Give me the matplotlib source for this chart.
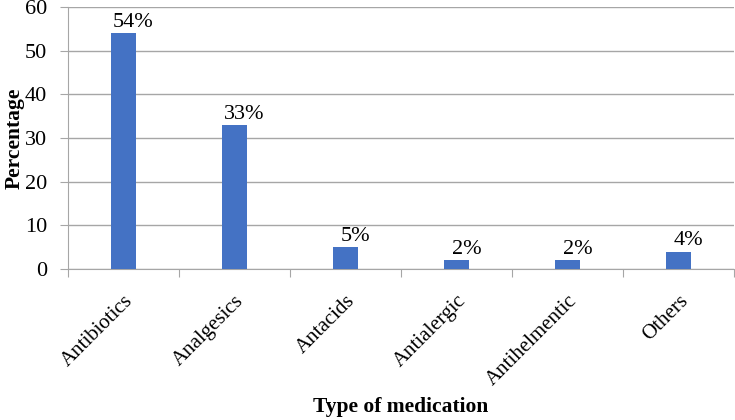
import numpy as np
import matplotlib.pyplot as plt

categories = ["Antibiotics", "Analgesics", "Antacids", "Antialergic", "Antihelmentic", "Others"]
values = [54, 33, 5, 2, 2, 4]
labels = ["54%", "33%", "5%", "2%", "2%", "4%"]

plt.rcParams["font.family"] = ["Liberation Serif", "DejaVu Serif"]

fig = plt.figure(figsize=(7.35, 4.2), dpi=100)
ax = fig.add_axes([0.0925, 0.3595, 0.9065, 0.6238])

x = np.arange(len(categories))
ax.bar(x, values, width=0.225, color="#4472C4", zorder=3)

for xi, v, lab in zip(x, values, labels):
    ax.text(xi + 0.09, v + 0.3, lab, ha="center", va="bottom", fontsize=16)

ax.set_xlim(-0.5, len(categories) - 0.5)
ax.set_ylim(0, 60)
ax.set_yticks(range(0, 61, 10))
ax.yaxis.grid(True, color="#a6a6a6", linewidth=1, zorder=0)

# category labels between boundary ticks
ax.set_xticks(np.arange(-0.5, len(categories), 1.0))
ax.set_xticklabels([])
ax.set_xticks(x, minor=True)
ax.set_xticklabels(categories, minor=True, rotation=45, ha="right",
                   rotation_mode="anchor", fontsize=15)
ax.tick_params(axis="x", which="minor", length=0, pad=16)
ax.tick_params(axis="x", which="major", length=6, color="#a6a6a6", direction="out")
ax.tick_params(axis="y", length=6, color="#a6a6a6", labelsize=16, pad=9)

for s in ["top", "right"]:
    ax.spines[s].set_visible(False)
for s in ["left", "bottom"]:
    ax.spines[s].set_color("#a6a6a6")

ax.set_ylabel("Percentage", fontsize=15.5, fontweight="bold")
ax.set_xlabel("Type of medication", fontsize=15.5, fontweight="bold")
ax.xaxis.set_label_coords(0.5, -0.49)
ax.yaxis.set_label_coords(-0.065, 0.5)

fig.savefig("out.png", dpi=100)
